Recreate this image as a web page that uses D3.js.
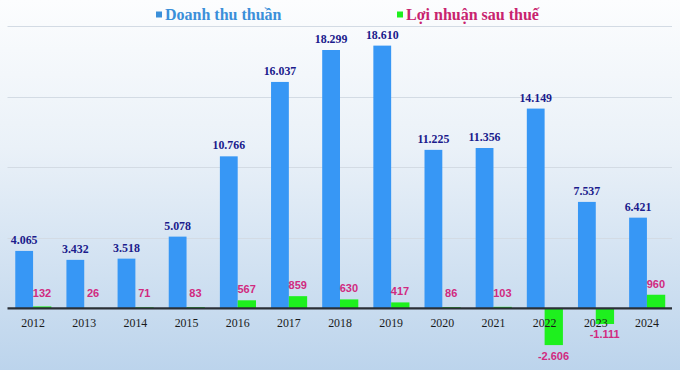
<!DOCTYPE html>
<html><head><meta charset="utf-8">
<script src="https://cdn.jsdelivr.net/npm/d3@7"></script>
<style>html,body{margin:0;padding:0;background:#fff}svg{display:block}</style>
</head><body><svg id="c" width="680" height="370"></svg>
<script>
const years = ["2012","2013","2014","2015","2016","2017","2018","2019","2020","2021","2022","2023","2024"];
const revenue = [4065,3432,3518,5078,10766,16037,18299,18610,11225,11356,14149,7537,6421];
const profit = [132,26,71,83,567,859,630,417,86,103,-2606,-1111,960];
const gridTicks = [0,5000,10000,15000,20000];
const seriesNames = ["Doanh thu thuần","Lợi nhuận sau thuế"];

const fmt = v => (v<0?"-":"") + d3.format(",")(Math.abs(v)).replace(/,/g,".");
const svg = d3.select("#c");
const defs = svg.append("defs");
const g1 = defs.append("linearGradient").attr("id","bg").attr("x1",0).attr("y1",0).attr("x2",0).attr("y2",1);
g1.append("stop").attr("offset","0%").attr("stop-color","#fcfdfe");
g1.append("stop").attr("offset","40%").attr("stop-color","#eaf1f8");
g1.append("stop").attr("offset","100%").attr("stop-color","#bcd4ec");
svg.append("rect").attr("width",680).attr("height",370).attr("fill","url(#bg)");

const x = d3.scaleBand().domain(years).range([7.5,672.5]).padding(0);
const y = d3.scaleLinear().domain([0,20000]).range([308.3,26]);

// gridlines
svg.append("g").selectAll("line").data(gridTicks.slice(1)).join("line")
  .attr("x1",7.5).attr("x2",672).attr("y1",d=>Math.round(y(d))+0.5).attr("y2",d=>Math.round(y(d))+0.5)
  .attr("stroke","#d3dbe4").attr("stroke-width",1);

const cx = d => x(d)+x.bandwidth()/2;
const bw = 17.8;

// revenue bars
svg.append("g").selectAll("rect").data(years).join("rect")
  .attr("x",(d)=>cx(d)-bw).attr("width",bw)
  .attr("y",(d,i)=>y(revenue[i])).attr("height",(d,i)=>y(0)-y(revenue[i]))
  .attr("fill","#3797f5");
// profit bars
svg.append("g").selectAll("rect").data(years).join("rect")
  .attr("x",(d)=>cx(d)).attr("width",bw+0.5)
  .attr("y",(d,i)=>y(Math.max(0,profit[i]))).attr("height",(d,i)=>Math.abs(y(profit[i])-y(0)))
  .attr("fill","#1ef01e");

// axis line
svg.append("line").attr("x1",7.5).attr("x2",672).attr("y1",y(0)).attr("y2",y(0))
  .attr("stroke","#2a2f36").attr("stroke-width",2.2);

// year labels
const xAxis = svg.append("g").attr("transform",`translate(0,${y(0)})`)
  .call(d3.axisBottom(x).tickSize(0).tickPadding(0));
xAxis.select(".domain").remove();
xAxis.selectAll("text").attr("dy",0).attr("y",18.3)
  .attr("font-family","'Liberation Serif','Times New Roman',serif").attr("font-size",13.5)
  .attr("fill","#1a1a1a")
  .style("transform","scaleX(0.88)").style("transform-box","fill-box").style("transform-origin","center");

// revenue labels
svg.append("g").selectAll("text").data(years).join("text")
  .attr("x",d=>cx(d)-bw/2).attr("y",(d,i)=>y(revenue[i])-7)
  .attr("text-anchor","middle")
  .attr("font-family","'Liberation Serif','Times New Roman',serif").attr("font-weight","bold").attr("font-size",13.5)
  .attr("fill","#1b1b8c")
  .style("transform","scaleX(0.88)").style("transform-box","fill-box").style("transform-origin","center")
  .text((d,i)=>fmt(revenue[i]));

// profit labels
svg.append("g").selectAll("text").data(years).join("text")
  .attr("x",d=>cx(d)+bw/2).attr("y",(d,i)=>profit[i]>=0 ? Math.min(y(profit[i]),y(0)-4)-7 : y(profit[i])+14.5)
  .attr("text-anchor","middle")
  .attr("font-family","'Liberation Sans',Arial,sans-serif").attr("font-weight","bold").attr("font-size",11)
  .attr("fill","#d12a80")
  .text((d,i)=>fmt(profit[i]));

// legend
const leg = svg.append("g");
const legItems = [{x:156,c:"#3a8fd9",m:"#3a8fd9"},{x:397,c:"#c8236e",m:"#1ef01e"}];
legItems.forEach((o,i)=>{
  leg.append("rect").attr("x",o.x).attr("y",11.5).attr("width",6).attr("height",6).attr("fill",o.m);
  leg.append("text").attr("x",o.x+9).attr("y",20).attr("font-family","'Liberation Serif','Times New Roman',serif")
    .attr("font-weight","bold").attr("font-size",16).attr("fill",o.c).text(seriesNames[i]);
});
</script></body></html>
